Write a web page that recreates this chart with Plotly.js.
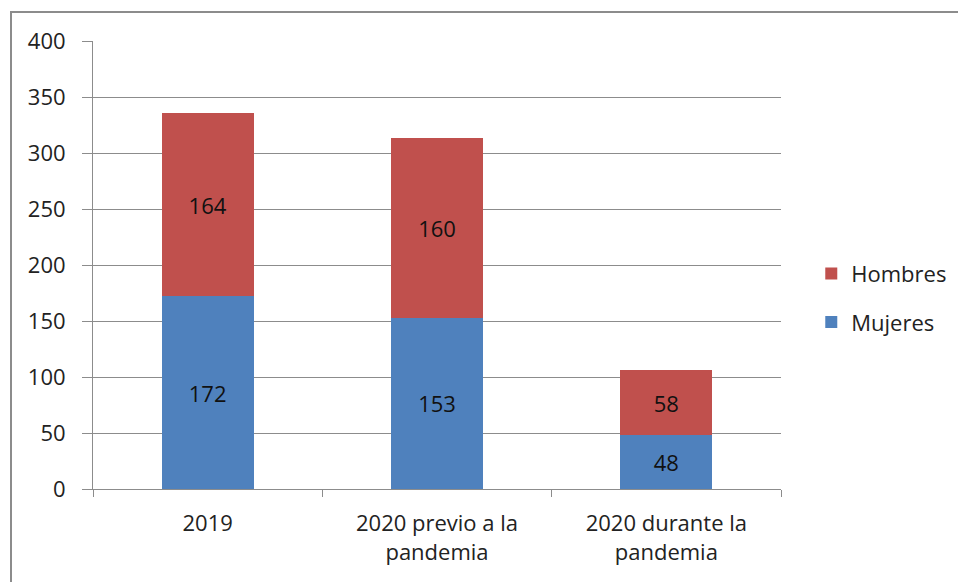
<!DOCTYPE html>
<html>
<head>
<meta charset="utf-8">
<script src="https://cdn.plot.ly/plotly-3.0.1.min.js"></script>
<style>
  html, body { margin: 0; padding: 0; background: #fff; }
  #wrap { position: relative; width: 958px; height: 582px; overflow: hidden; }
  #chart { width: 958px; height: 582px; }
  #frame { position: absolute; left: 10px; top: 11px; width: 960px; height: 600px;
           border: 2px solid #8c8c8c; pointer-events: none; box-sizing: border-box; }
</style>
</head>
<body>
<div id="wrap">
  <div id="chart"></div>
  <div id="frame"></div>
</div>
<script>
const categories = ["2019", "2020 previo a la<br>pandemia", "2020 durante la<br>pandemia"];
const mujeres = [172, 153, 48];
const hombres = [164, 160, 58];
const yTicks = [0, 50, 100, 150, 200, 250, 300, 350, 400];

const fontFam = "'Open Sans', 'Noto Sans', 'DejaVu Sans', sans-serif";

const traces = [
  {
    type: "bar", name: "Mujeres", x: categories, y: mujeres,
    legendgroup: "m", legendrank: 2,
    text: mujeres.map(String), textposition: "inside", insidetextanchor: "middle",
    textfont: { family: fontFam, size: 22, color: "#111" },
    marker: { color: "#4F81BD" }, hoverinfo: "none"
  },
  {
    type: "bar", name: "Hombres", x: categories, y: hombres,
    legendgroup: "h", legendrank: 1,
    text: hombres.map(String), textposition: "inside", insidetextanchor: "middle",
    textfont: { family: fontFam, size: 22, color: "#111" },
    marker: { color: "#C0504D" }, hoverinfo: "none"
  }
];

const layout = {
  width: 958, height: 582,
  margin: { l: 93, r: 177, t: 41, b: 93, pad: 0, autoexpand: false },
  paper_bgcolor: "#fff", plot_bgcolor: "#fff",
  barmode: "stack", bargap: 0.6,
  font: { family: fontFam, size: 22, color: "#222" },
  showlegend: true,
  legend: {
    traceorder: "grouped", x: 1.044, xanchor: "left", y: 0.426, yanchor: "middle",
    font: { family: fontFam, size: 22, color: "#222" },
    itemwidth: 30, tracegroupgap: 17
  },
  xaxis: {
    type: "category", tickson: "boundaries", ticks: "outside", ticklen: 7,
    tickcolor: "#8c8c8c", showline: true, linecolor: "#8c8c8c", linewidth: 1,
    ticklabelstandoff: 15,
    showgrid: false, tickfont: { family: fontFam, size: 22, color: "#222" }
  },
  yaxis: {
    range: [0, 400], tickvals: yTicks, ticktext: yTicks.map(String),
    ticks: "outside", ticklen: 10, tickcolor: "#8c8c8c", ticklabelstandoff: 12,
    showline: true, linecolor: "#8c8c8c", linewidth: 1,
    showgrid: true, gridcolor: "#8c8c8c", gridwidth: 1, zeroline: false,
    tickfont: { family: fontFam, size: 22, color: "#222" }
  }
};

Plotly.newPlot("chart", traces, layout, { displayModeBar: false, staticPlot: true });
</script>
</body>
</html>
